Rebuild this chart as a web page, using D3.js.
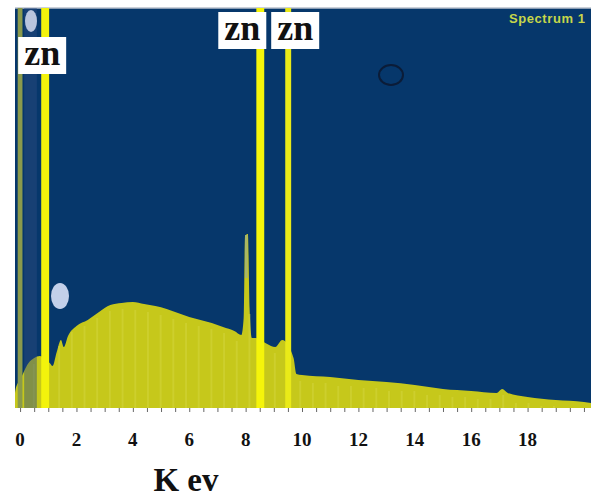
<!DOCTYPE html>
<html>
<head>
<meta charset="utf-8">
<script src="https://cdn.jsdelivr.net/npm/d3@7"></script>
<style>
  body { margin: 0; background: #fff; }
  svg { display: block; }
  .tick-lbl { font-family: "Liberation Serif", serif; font-weight: bold; font-size: 19px; fill: #111; }
  .zn { font-family: "Liberation Serif", serif; font-weight: bold; font-size: 36px; fill: #111; }
</style>
</head>
<body>
<svg></svg>
<script>
// continuum of the EDX spectrum (keV, counts)
const energy = [-0.18, -0.15, 0.0, 0.3, 0.5, 0.7, 1.05, 1.15, 1.3, 1.45, 1.55, 1.7, 2.0, 2.4, 2.8, 3.2, 3.6, 4.0, 4.4, 4.8, 5.2, 5.6, 6.0, 6.4, 6.8, 7.2, 7.6, 7.85, 7.93, 7.98, 8.08, 8.14, 8.22, 8.35, 8.7, 8.9, 9.05, 9.3, 9.7, 9.8, 10.0, 11.0, 12.0, 13.0, 14.0, 15.0, 16.0, 16.9, 17.1, 17.3, 18.0, 19.0, 20.0, 20.25]
const counts = [150, 200, 280, 450, 500, 520, 450, 420, 560, 680, 610, 720, 820, 880, 960, 1030, 1050, 1060, 1040, 1020, 990, 950, 910, 880, 850, 810, 770, 730, 900, 1720, 1740, 1000, 700, 700, 650, 620, 610, 680, 500, 340, 330, 310, 280, 260, 230, 190, 170, 150, 190, 150, 110, 80, 60, 50]

// off-scale peaks: centre (keV), width (keV), counts
const peakNames = ["noise", "C", "Zn L", "Zn Ka", "Zn Kb"]
const peakCentre = [0.0, 0.37, 0.89, 8.52, 9.51]
const peakWidth = [0.17, 0.45, 0.28, 0.28, 0.21]
const peakCounts = [9000, 9000, 9000, 9000, 9000]
const peakColor = ["#8a9a4c", "#2c4c80", "#f3f30c", "#f5f50a", "#eaea18"]

const xTickLabels = [0, 2, 4, 6, 8, 10, 12, 14, 16, 18]
const znLabels = ["zn", "zn", "zn"]

let w = 591, h = 499
let svg = d3.select("svg").attr("width", w).attr("height", h)

let x = d3.scaleLinear().domain([-0.18, 20.25]).range([15, 591])
let y = d3.scaleLinear().domain([0, 4000]).range([408, 8])

svg.append("clipPath").attr("id", "plot")
    .append("rect").attr("x", 15).attr("y", 8).attr("width", 576).attr("height", 400)

svg.append("rect")
    .attr("x", 15).attr("y", 8).attr("width", 576).attr("height", 400)
    .attr("fill", "#06376b")
svg.append("line")
    .attr("x1", 15).attr("x2", 591).attr("y1", 8).attr("y2", 8)
    .attr("stroke", "#b8c0cc").attr("stroke-width", 1.5)

let g = svg.append("g").attr("clip-path", "url(#plot)")

let pts = energy.map((e, i) => ({ e: e, c: counts[i] }))
let area = d3.area()
    .x(d => x(d.e))
    .y0(y(0))
    .y1(d => y(d.c))
    .curve(d3.curveMonotoneX)

g.append("path")
    .datum(pts)
    .attr("d", area)
    .attr("fill", "#c6c81b")

// faint channel streaks inside the continuum
g.selectAll(".streak")
    .data(d3.range(0, 20, 0.45))
    .enter().append("rect")
    .attr("class", "streak")
    .attr("x", d => x(d))
    .attr("width", 2)
    .attr("y", d => {
        let i = d3.bisectLeft(energy, d)
        return y(counts[Math.min(i, counts.length - 1)]) + 6
    })
    .attr("height", d => {
        let i = d3.bisectLeft(energy, d)
        return Math.max(0, y(0) - y(counts[Math.min(i, counts.length - 1)]) - 6)
    })
    .attr("fill", "#d4d640")
    .attr("opacity", 0.5)

// Cu K-alpha highlight
g.append("rect")
    .attr("x", x(7.98)).attr("width", x(8.07) - x(7.98))
    .attr("y", y(1730)).attr("height", y(1300) - y(1730))
    .attr("fill", "#a7b56a")

g.selectAll(".peak")
    .data(peakNames)
    .enter().append("rect")
    .attr("class", "peak")
    .attr("x", (d, i) => x(peakCentre[i] - peakWidth[i] / 2))
    .attr("width", (d, i) => x(peakWidth[i]) - x(0))
    .attr("y", (d, i) => y(peakCounts[i]))
    .attr("height", (d, i) => y(0) - y(peakCounts[i]))
    .attr("fill", (d, i) => peakColor[i])
    .attr("opacity", (d, i) => d == "C" ? 0.45 : 1)

// bubbles / marker from the original screenshot
g.append("ellipse").attr("cx", 31).attr("cy", 21).attr("rx", 6).attr("ry", 11)
    .attr("fill", "#b9c5dd")
g.append("ellipse").attr("cx", 60).attr("cy", 296).attr("rx", 9).attr("ry", 13)
    .attr("fill", "#c3d0ea")
g.append("ellipse").attr("cx", 391).attr("cy", 75).attr("rx", 12).attr("ry", 10)
    .attr("fill", "none").attr("stroke", "#0b1c38").attr("stroke-width", 2)

g.append("text")
    .attr("x", 585).attr("y", 23)
    .attr("text-anchor", "end")
    .attr("font-family", "Liberation Sans Narrow, Liberation Sans, sans-serif")
    .attr("font-size", 13)
    .attr("font-weight", "bold")
    .attr("fill", "#c6d64a")
    .attr("textLength", 76)
    .text("Spectrum 1")

// axis ticks
let axis = d3.axisBottom(x)
    .tickValues(d3.range(0, 20.01, 0.5))
    .tickSize(4)
    .tickFormat("")
let ax = svg.append("g").attr("transform", "translate(0,408)").call(axis)
ax.select(".domain").remove()
ax.selectAll("line").attr("stroke", "#666")

svg.selectAll(".tick-lbl")
    .data(xTickLabels)
    .enter().append("text")
    .attr("class", "tick-lbl")
    .attr("x", d => x(d))
    .attr("y", 446)
    .attr("text-anchor", "middle")
    .text(d => d)

svg.append("text")
    .attr("x", 186).attr("y", 491)
    .attr("text-anchor", "middle")
    .attr("font-family", "Liberation Serif, serif")
    .attr("font-weight", "bold")
    .attr("font-size", 33)
    .attr("fill", "#111")
    .text("K ev")

// zn labels, placed beside their peaks
let boxOffsets = [[-27, 37], [-42, 12], [-17, 12]]
let znPeaks = [2, 3, 4]
znLabels.forEach((t, i) => {
    let px = x(peakCentre[znPeaks[i]])
    let bx = px + boxOffsets[i][0], by = boxOffsets[i][1]
    svg.append("rect")
        .attr("x", bx).attr("y", by).attr("width", 48).attr("height", 37)
        .attr("fill", "#fff")
    svg.append("text")
        .attr("class", "zn")
        .attr("x", bx + 24).attr("y", by + 28)
        .attr("text-anchor", "middle")
        .text(t)
})
</script>
</body>
</html>
